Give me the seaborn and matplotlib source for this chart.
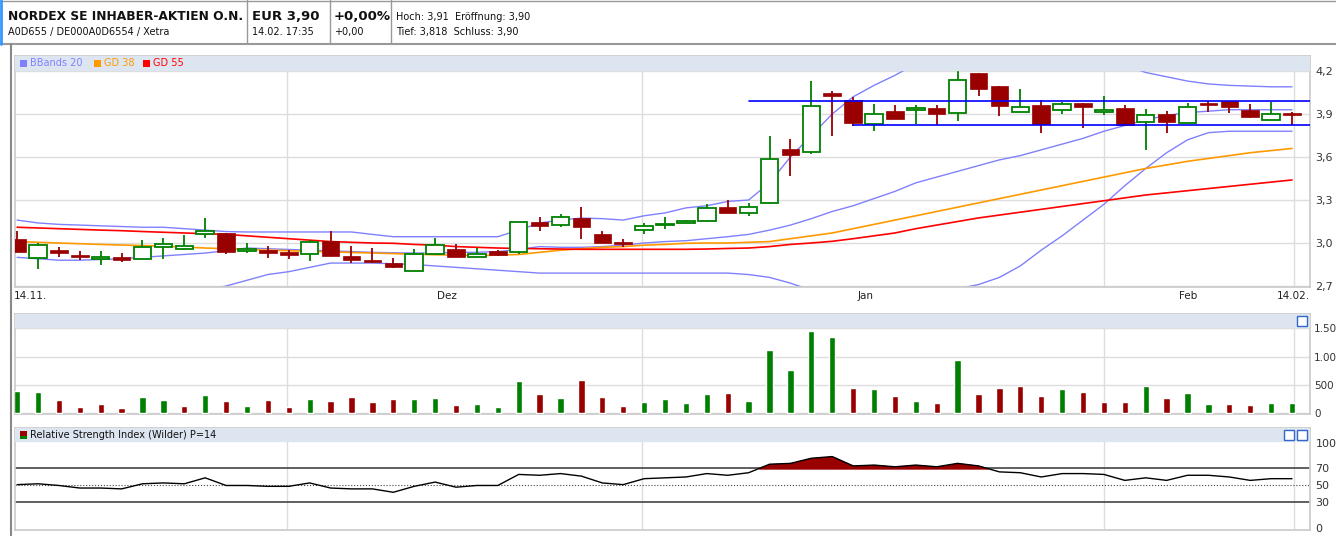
import matplotlib
matplotlib.use("Agg")
import matplotlib.pyplot as plt
import seaborn as sns
import numpy as np
import pandas as pd
from matplotlib.patches import Rectangle

sns.set_theme(style="white")
plt.rcParams['font.family'] = ['DejaVu Sans']

# ---------------- data ----------------
opens = [3.026,2.893,2.951,2.916,2.888,2.902,2.888,2.970,2.958,3.060,3.070,2.944,2.951,2.940,2.921,3.014,2.912,2.881,2.860,2.807,
         2.921,2.956,2.900,2.947,2.940,3.147,3.123,3.174,3.065,3.005,3.091,3.123,3.142,3.151,3.253,3.209,3.277,3.658,3.635,4.049,
         3.995,3.830,3.921,3.930,3.942,3.905,4.186,4.094,3.912,3.962,3.925,3.976,3.916,3.942,3.842,3.900,3.835,3.978,3.988,3.930,
         3.856,3.905]
highs = [3.086,2.998,2.972,2.944,2.944,2.930,3.021,3.037,3.056,3.174,3.070,2.998,2.977,2.950,3.020,3.084,2.980,2.963,2.893,2.956,
         3.035,2.993,2.967,2.950,3.147,3.184,3.202,3.254,3.086,3.030,3.139,3.184,3.160,3.272,3.302,3.279,3.749,3.728,4.133,4.063,
         4.021,3.972,3.962,3.962,3.962,4.198,4.186,4.094,4.073,4.000,3.983,3.976,4.025,3.960,3.932,3.921,3.978,3.988,3.988,3.969,
         3.985,3.914]
lows = [2.940,2.820,2.905,2.879,2.849,2.867,2.888,2.890,2.950,3.033,2.923,2.928,2.898,2.888,2.874,2.912,2.863,2.858,2.823,2.802,
        2.921,2.900,2.900,2.909,2.926,3.086,3.114,3.030,2.998,2.970,3.060,3.095,3.137,3.144,3.207,3.186,3.270,3.465,3.619,3.744,
        3.814,3.779,3.865,3.831,3.822,3.852,4.027,3.888,3.912,3.771,3.902,3.805,3.890,3.822,3.646,3.771,3.835,3.914,3.909,3.872,
        3.856,3.826]
closes = [2.940,2.984,2.933,2.902,2.902,2.881,2.970,2.993,2.979,3.084,2.940,2.958,2.933,2.919,3.005,2.912,2.881,2.867,2.835,2.921,
          2.986,2.900,2.921,2.919,3.147,3.121,3.179,3.114,2.998,2.991,3.119,3.135,3.153,3.244,3.207,3.251,3.586,3.612,3.956,4.023,
          3.835,3.900,3.865,3.939,3.902,4.140,4.073,3.958,3.948,3.833,3.967,3.951,3.925,3.822,3.891,3.847,3.946,3.965,3.948,3.879,
          3.900,3.891]

bb_upper = [3.16,3.14,3.13,3.125,3.12,3.115,3.11,3.11,3.10,3.09,3.08,3.077,3.077,3.077,3.077,3.077,3.077,3.06,3.044,3.044,
            3.044,3.044,3.044,3.044,3.09,3.14,3.16,3.174,3.17,3.16,3.19,3.21,3.245,3.26,3.29,3.30,3.42,3.60,3.75,3.90,
            4.02,4.10,4.17,4.25,4.32,4.36,4.36,4.36,4.36,4.36,4.36,4.33,4.28,4.24,4.19,4.16,4.13,4.11,4.10,4.095,
            4.09,4.09]
bb_mid = [2.90,2.89,2.88,2.88,2.885,2.89,2.90,2.91,2.92,2.93,2.946,2.965,2.96,2.955,2.95,2.945,2.94,2.935,2.932,2.93,
          2.93,2.935,2.935,2.94,2.955,2.975,2.97,2.97,2.975,2.985,3.0,3.01,3.016,3.03,3.044,3.06,3.09,3.125,3.17,3.22,
          3.26,3.31,3.36,3.42,3.46,3.50,3.54,3.58,3.61,3.65,3.69,3.73,3.78,3.82,3.86,3.89,3.91,3.92,3.93,3.93,
          3.93,3.93]
bb_lower = [2.64,2.64,2.64,2.64,2.64,2.64,2.64,2.645,2.655,2.67,2.70,2.74,2.78,2.80,2.83,2.86,2.86,2.86,2.855,2.85,
            2.84,2.83,2.82,2.81,2.80,2.79,2.79,2.79,2.79,2.79,2.79,2.79,2.79,2.79,2.79,2.78,2.76,2.72,2.67,2.63,
            2.61,2.61,2.62,2.64,2.66,2.68,2.71,2.76,2.84,2.95,3.05,3.16,3.27,3.40,3.52,3.63,3.72,3.77,3.78,3.78,
            3.78,3.78]
gd38 = [3.01,3.005,3.0,2.995,2.99,2.986,2.982,2.978,2.972,2.965,2.96,2.955,2.95,2.946,2.942,2.938,2.934,2.93,2.926,2.922,
        2.918,2.916,2.912,2.916,2.92,2.935,2.95,2.96,2.97,2.975,2.985,2.99,2.998,3.0,3.0,3.005,3.01,3.03,3.05,3.07,
        3.10,3.13,3.16,3.19,3.22,3.25,3.28,3.31,3.34,3.37,3.40,3.43,3.46,3.49,3.52,3.545,3.57,3.59,3.61,3.63,
        3.645,3.66]
gd55 = [3.11,3.105,3.10,3.095,3.09,3.086,3.08,3.075,3.07,3.065,3.06,3.05,3.04,3.03,3.02,3.01,3.005,3.0,2.998,2.99,
        2.985,2.975,2.97,2.965,2.962,2.96,2.958,2.956,2.956,2.956,2.956,2.956,2.956,2.958,2.962,2.965,2.975,2.99,3.0,3.012,
        3.03,3.05,3.07,3.10,3.125,3.15,3.175,3.195,3.215,3.235,3.255,3.275,3.295,3.315,3.335,3.35,3.365,3.38,3.395,3.41,
        3.425,3.44]

volume = [395,378,238,116,169,99,291,238,134,326,221,134,238,116,256,221,291,203,256,256,
          273,151,169,116,570,343,273,587,291,134,203,256,186,343,360,221,1110,762,1442,1337,
          448,430,308,221,186,936,343,448,483,308,430,378,203,203,483,273,360,169,169,151,
          186,186]
vol_dir = ['up','up','down','down','down','down','up','up','down','up','down','up','down','down','up','down','down','down','down','up',
           'up','down','up','up','up','down','up','down','down','down','up','up','up','up','down','up','up','up','up','up',
           'down','up','down','up','down','up','down','down','down','down','up','down','down','down','up','down','up','up','down','down',
           'up','up']

rsi = [51,52,50,47,47,46,52,53,52,59,50,50,49,49,53,47,46,46,42,49,
       54,48,50,50,63,62,64,61,53,51,58,59,60,64,62,65,75,76,82,84,
       73,74,72,74,72,76,73,66,65,60,64,64,63,56,59,56,62,62,60,56,
       58,58]

resist_level = 3.99
support_level = 3.822
resist_start = 35
support_start = 40

price_ticks = [2.7, 3.0, 3.3, 3.6, 3.9, 4.2]
price_tick_labels = ["2,7", "3,0", "3,3", "3,6", "3,9", "4,2"]
vol_ticks = [0, 500, 1000, 1500]
vol_tick_labels = ["0", "500", "1.00", "1.50"]
rsi_ticks = [0, 30, 50, 70, 100]
month_labels = ["14.11.", "Dez", "Jan", "Feb", "14.02."]
month_label_px = [14, 447, 866, 1188, 1296]
grid_positions = [12.9, 29.9, 52.0, 61.1]

n = len(closes)
idx = np.arange(n)
df = pd.DataFrame(dict(i=idx, o=opens, h=highs, l=lows, c=closes, up=bb_upper, mid=bb_mid, lo=bb_lower,
                       gd38=gd38, gd55=gd55, vol=volume, vdir=vol_dir, rsi=rsi))

GREEN = '#008000'
RED = '#990000'
BB = '#8080ff'
STRIP = '#dde6f0'

W, H = 1336, 536
fig = plt.figure(figsize=(W / 100, H / 100), dpi=100)
fig.patch.set_facecolor('white')

def ax_rect(left, top, right, bottom):
    return [left / W, 1 - bottom / H, (right - left) / W, (bottom - top) / H]

XL = (-0.1, 61.86)

# ---------------- main price panel ----------------
ax = fig.add_axes(ax_rect(15, 56, 1310, 287))
ylo, yhi = 2.693, 4.305
strip_lo = 4.207
ax.set_xlim(*XL)
ax.set_ylim(ylo, yhi)
for t in price_ticks:
    ax.axhline(t, color='#dddddd', lw=1, zorder=0)
for g in grid_positions:
    ax.axvline(g, color='#dddddd', lw=1, zorder=0)

sns.lineplot(data=df, x='i', y='up', ax=ax, color=BB, lw=1, zorder=2)
sns.lineplot(data=df, x='i', y='mid', ax=ax, color=BB, lw=1, zorder=2)
sns.lineplot(data=df, x='i', y='lo', ax=ax, color=BB, lw=1, zorder=2)
sns.lineplot(data=df, x='i', y='gd38', ax=ax, color='#ff9900', lw=1.2, zorder=2)
sns.lineplot(data=df, x='i', y='gd55', ax=ax, color='#ff0000', lw=1.2, zorder=2)

bw = 0.42
for i in range(n):
    o, h, l, c = opens[i], highs[i], lows[i], closes[i]
    if c >= o:
        ax.vlines(i, l, o, color=GREEN, lw=1.3, zorder=3)
        ax.vlines(i, c, h, color=GREEN, lw=1.3, zorder=3)
        ax.add_patch(Rectangle((i - bw, o), 2 * bw, max(c - o, 0.004), facecolor='white',
                               edgecolor=GREEN, lw=1.3, zorder=4))
    else:
        ax.vlines(i, l, h, color=RED, lw=1.3, zorder=3)
        ax.add_patch(Rectangle((i - bw, c), 2 * bw, max(o - c, 0.004), facecolor=RED,
                               edgecolor=RED, lw=0.5, zorder=4))

ax.plot([resist_start, XL[1]], [resist_level, resist_level], color='#0000ff', lw=1.2, zorder=5)
ax.plot([support_start, XL[1]], [support_level, support_level], color='#0000ff', lw=1.2, zorder=5)

ax.axhspan(strip_lo, yhi, color=STRIP, zorder=6)
ax.set_xlabel('')
ax.set_ylabel('')
ax.set_xticks([])
ax.yaxis.tick_right()
ax.set_yticks(price_ticks)
ax.set_yticklabels(price_tick_labels, fontsize=8, color='#333333')
ax.tick_params(axis='y', length=0, pad=4)
for s in ax.spines.values():
    s.set_color('#cccccc')

def strip_legend(items, y_px):
    x = 20
    for label, col in items:
        fig.patches.append(Rectangle((x / W, 1 - (y_px + 4) / H), 7 / W, 7 / H, transform=fig.transFigure,
                                     facecolor=col, edgecolor='none', zorder=10))
        fig.text((x + 10) / W, 1 - y_px / H, label, color=col, fontsize=7, va='center', ha='left')
        x += 10 + len(label) * 6.2 + 8

strip_legend([("BBands 20", BB), ("GD 38", '#ff9900'), ("GD 55", '#ff0000')], 63)

for lab, px in zip(month_labels, month_label_px):
    ha = 'left' if px < 100 else ('right' if px > 1280 else 'center')
    if px > 1280:
        px = 1310
    fig.text(px / W, 1 - 296 / H, lab, fontsize=7.5, ha=ha, va='center', color='#222222')

# ---------------- volume panel ----------------
axv = fig.add_axes(ax_rect(15, 314, 1310, 414))
sns.barplot(data=df, x='i', y='vol', hue='vdir', palette={'up': GREEN, 'down': RED}, dodge=False,
            width=0.3, ax=axv, legend=False, zorder=3, saturation=1)
axv.set_xlim(*XL)
axv.set_ylim(-9, 1746)
for t in vol_ticks:
    axv.axhline(t, color='#dddddd', lw=1, zorder=0)
for g in grid_positions:
    axv.axvline(g, color='#dddddd', lw=1, zorder=0)
axv.axhspan(1517, 1746, color=STRIP, zorder=6)
axv.set_xlabel('')
axv.set_ylabel('')
axv.set_xticks([])
axv.yaxis.tick_right()
axv.set_yticks(vol_ticks)
axv.set_yticklabels(vol_tick_labels, fontsize=7.5, color='#333333')
axv.tick_params(axis='y', length=0, pad=3)
for s in axv.spines.values():
    s.set_color('#cccccc')

# ---------------- RSI panel ----------------
axr = fig.add_axes(ax_rect(15, 428, 1310, 530))
axr.set_xlim(*XL)
axr.set_ylim(-2.35, 117.6)
for g in grid_positions:
    axr.axvline(g, color='#dddddd', lw=1, zorder=0)
axr.axhline(70, color='#444444', lw=1.2, zorder=1)
axr.axhline(30, color='#444444', lw=1.2, zorder=1)
axr.axhline(50, color='#444444', lw=0.8, ls=':', zorder=1)
rsi_arr = np.array(rsi, dtype=float)
axr.fill_between(idx, 70, rsi_arr, where=rsi_arr > 70, interpolate=True, color=RED, zorder=2)
sns.lineplot(data=df, x='i', y='rsi', ax=axr, color='black', lw=1, zorder=3)
axr.axhspan(102.4, 117.6, color=STRIP, zorder=6)
axr.set_xlabel('')
axr.set_ylabel('')
axr.set_xticks([])
axr.yaxis.tick_right()
axr.set_yticks(rsi_ticks)
axr.set_yticklabels([str(t) for t in rsi_ticks], fontsize=8, color='#333333')
axr.tick_params(axis='y', length=0, pad=4)
for s in axr.spines.values():
    s.set_color('#cccccc')
fig.patches.append(Rectangle((20 / W, 1 - 439 / H), 7 / W, 8 / H, transform=fig.transFigure,
                             facecolor=RED, edgecolor='none', zorder=10))
fig.patches.append(Rectangle((20 / W, 1 - 439 / H), 7 / W, 3 / H, transform=fig.transFigure,
                             facecolor=GREEN, edgecolor='none', zorder=11))
fig.text(30 / W, 1 - 435 / H, "Relative Strength Index (Wilder) P=14", fontsize=7, va='center', color='#111111')

for (xpx, ypx) in [(1302, 321), (1289, 435), (1302, 435)]:
    fig.patches.append(Rectangle(((xpx - 5) / W, 1 - (ypx + 5) / H), 10 / W, 10 / H, transform=fig.transFigure,
                                 facecolor='white', edgecolor='#3366cc', lw=1, zorder=10))

# ---------------- header ----------------
fig.add_artist(plt.Line2D([0, 1], [1 - 44 / H, 1 - 44 / H], color='#999999', lw=1.5))
fig.add_artist(plt.Line2D([0, 1], [1 - 1 / H, 1 - 1 / H], color='#999999', lw=1))
for xs in [247, 330, 391]:
    fig.add_artist(plt.Line2D([xs / W, xs / W], [1 - 44 / H, 1], color='#999999', lw=1))
fig.add_artist(plt.Line2D([11 / W, 11 / W], [0, 1 - 44 / H], color='#888888', lw=1.5))
fig.add_artist(plt.Line2D([1 / W, 1 / W], [1 - 44 / H, 1], color='#3399ff', lw=2))

fig.text(8 / W, 1 - 16 / H, "NORDEX SE INHABER-AKTIEN O.N.", fontsize=8.8, fontweight='bold', va='center', color='#111111')
fig.text(8 / W, 1 - 32 / H, "A0D655 / DE000A0D6554 / Xetra", fontsize=7, va='center', color='#111111')
fig.text(252 / W, 1 - 16 / H, "EUR 3,90", fontsize=9.5, fontweight='bold', va='center', color='#111111')
fig.text(252 / W, 1 - 32 / H, "14.02. 17:35", fontsize=7, va='center', color='#111111')
fig.text(334 / W, 1 - 16 / H, "+0,00%", fontsize=9.5, fontweight='bold', va='center', color='#111111')
fig.text(334 / W, 1 - 32 / H, "+0,00", fontsize=7, va='center', color='#111111')
fig.text(396 / W, 1 - 17 / H, "Hoch: 3,91  Eröffnung: 3,90", fontsize=7, va='center', color='#111111')
fig.text(396 / W, 1 - 32 / H, "Tief: 3,818  Schluss: 3,90", fontsize=7, va='center', color='#111111')

fig.savefig("out.png", dpi=100)
